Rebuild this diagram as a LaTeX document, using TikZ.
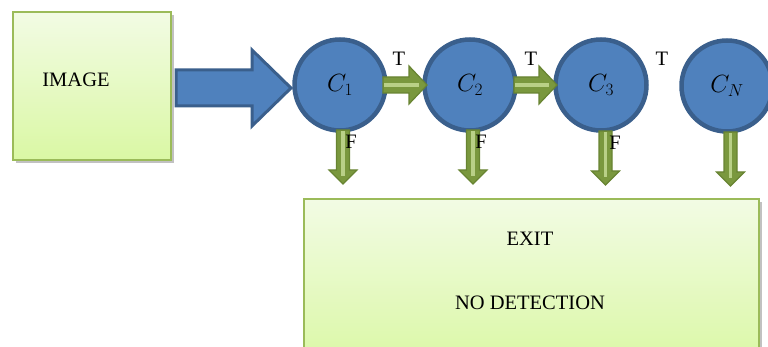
\documentclass[tikz,border=0pt]{standalone}
\usepackage{fontspec}
\setmainfont{Liberation Serif}
\usetikzlibrary{shadows}
\definecolor{bluefill}{RGB}{79,129,189}
\definecolor{blueline}{RGB}{58,95,140}
\definecolor{greenline}{RGB}{155,187,89}
\definecolor{olivefill}{RGB}{122,152,62}
\definecolor{oliveline}{RGB}{104,132,50}
\definecolor{olivelight}{RGB}{185,208,135}
\definecolor{boxtop}{RGB}{242,251,228}
\definecolor{boxbot}{RGB}{218,248,164}
\tikzset{
  lbl/.style={font=\fontsize{20.5}{24}\selectfont, inner sep=0pt},
  greenbox/.style={draw=greenline, line width=1.5pt, top color=boxtop, bottom color=boxbot,
    inner sep=0pt, drop shadow={shadow xshift=2.5pt, shadow yshift=-3pt, opacity=0.35, fill=black!70}},
  circ/.style={circle, minimum size=91pt, inner sep=0pt, fill=bluefill, draw=blueline, line width=4.5pt,
    font=\fontsize{23}{26}\selectfont},
  bluearrow/.style={fill=bluefill, draw=blueline, line width=3pt, line join=miter},
  garrow/.style={fill=olivefill, draw=oliveline, line width=1.2pt, line join=miter},
  gstripe/.style={draw=olivelight, line width=3.5pt}
}
\newcommand{\grarrow}[3]{%
  \draw[garrow] (#1,77) -- (#2,77) -- (#2,66) -- (#3,85) -- (#2,104) -- (#2,93) -- (#1,93) -- cycle;
  \draw[gstripe] (#1+1,85) -- (#3-8,85);}
\newcommand{\gdarrow}[4]{%
  \draw[garrow] (#1-6.5,#2) -- (#1-6.5,#3) -- (#1-14,#3) -- (#1,#4) -- (#1+14,#3) -- (#1+6.5,#3) -- (#1+6.5,#2) -- cycle;
  \draw[gstripe] (#1,#2+1) -- (#1,#4-8);}
\begin{document}
\begin{tikzpicture}[x=1pt,y=-1pt]
\useasboundingbox (0,0) rectangle (768,347);
\clip (0,0) rectangle (768,347);
% boxes
\node[greenbox, minimum width=158pt, minimum height=148pt] (img) at (92,86) {};
\node[lbl] (imgtxt) at (76,80) {IMAGE};
\node[greenbox, minimum width=455pt, minimum height=170pt] (exit) at (531.5,284) {};
\node[lbl] (exittxt) at (530,239) {EXIT};
\node[lbl] (nodet) at (530,303) {NO DETECTION};
% big arrow
\draw[bluearrow] (176,70) -- (252,70) -- (252,50) -- (291,88) -- (252,126) -- (252,106) -- (176,106) -- cycle;
% classifiers
\node[circ] (c1) at (340,85) {$C_1$};
\node[circ] (c2) at (470,85) {$C_2$};
\node[circ] (c3) at (601,85) {$C_3$};
\node[circ] (cn) at (727,86) {$C_N$};
% true arrows
\grarrow{383}{409}{427}
\grarrow{514}{539}{557}
% false arrows
\gdarrow{343}{130}{170}{184}
\gdarrow{473}{130}{170}{184}
\gdarrow{605.5}{131}{171}{185}
\gdarrow{730.5}{132}{172}{186}
% labels
\node[lbl] (t1) at (399,59) {T};
\node[lbl] (t2) at (531,59) {T};
\node[lbl] (t3) at (662,59) {T};
\node[lbl] (f1) at (351,142) {F};
\node[lbl] (f2) at (481,142) {F};
\node[lbl] (f3) at (615,143) {F};
\end{tikzpicture}
\end{document}
